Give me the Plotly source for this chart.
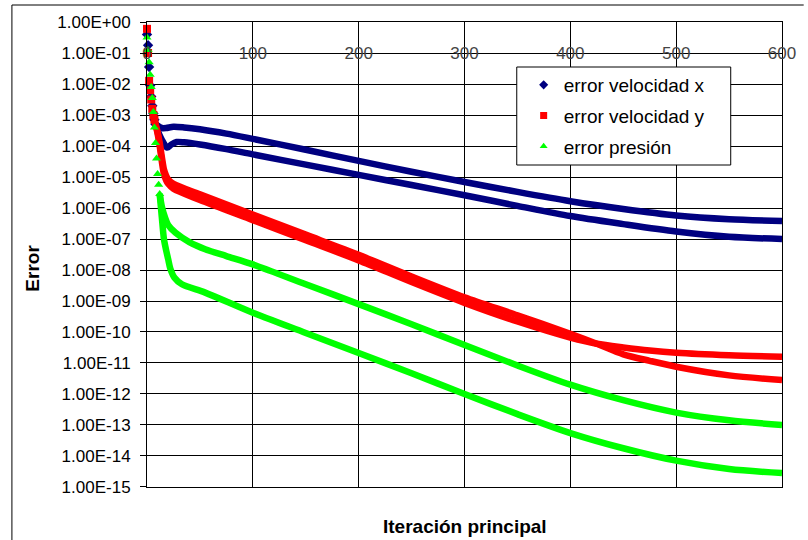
import plotly.graph_objects as go

# ---------------- data (values as log10 of the error) ----------------
x_ticks = [0, 100, 200, 300, 400, 500, 600]
x_tick_text = ["0", "100", "200", "300", "400", "500", "600"]
y_tick_exp = list(range(0, -16, -1))
y_tick_text = ["1.00E+00"] + ["1.00E-%02d" % (-e) for e in y_tick_exp[1:]]

# error velocidad x
vx_early_x = [0, 1, 2, 3, 4, 5, 6, 7, 8]
vx_early_log = [-0.4, -0.75, -1.45, -2.05, -2.4, -2.7, -2.95, -3.15, -3.3]
vx_a_x = [8, 10, 14, 18, 25, 35, 50, 75, 100, 150, 200, 250, 300, 350, 400, 450, 500, 550, 600]
vx_a_log = [-3.3, -3.35, -3.42, -3.42, -3.38, -3.4, -3.46, -3.6, -3.77, -4.12, -4.48, -4.83,
            -5.16, -5.48, -5.78, -6.03, -6.24, -6.36, -6.42]
vx_b_x = [8, 10, 14, 19, 23, 28, 35, 50, 75, 100, 150, 200, 250, 300, 350, 400, 450, 500, 550, 600]
vx_b_log = [-3.3, -3.5, -3.8, -4.05, -3.95, -3.87, -3.88, -3.95, -4.1, -4.27, -4.6, -4.93,
            -5.26, -5.59, -5.93, -6.26, -6.52, -6.76, -6.93, -7.0]

# error velocidad y
vy_early_x = [0, 1, 2, 3, 4, 5, 6, 7]
vy_early_log = [-0.22, -1.0, -1.9, -2.2, -2.5, -2.8, -3.0, -3.15]
vy_a_x = [7, 10, 12, 14, 16, 18, 20, 25, 50, 100, 150, 200, 250, 300, 350, 400, 425, 450,
          475, 500, 550, 600]
vy_a_log = [-3.15, -3.6, -4.0, -4.5, -4.9, -5.1, -5.22, -5.38, -5.74, -6.39, -7.04, -7.69,
            -8.39, -9.06, -9.66, -10.18, -10.38, -10.5, -10.6, -10.67, -10.75, -10.8]
vy_b_x = [7, 10, 12, 14, 16, 18, 20, 25, 50, 100, 150, 200, 250, 300, 350, 400, 425, 450,
          475, 500, 550, 600]
vy_b_log = [-3.15, -3.55, -3.9, -4.35, -4.75, -4.95, -5.08, -5.22, -5.56, -6.21, -6.86, -7.51,
            -8.21, -8.88, -9.46, -10.06, -10.38, -10.72, -10.93, -11.12, -11.4, -11.55]

# error presión
p_early_x = [0, 1, 2, 3, 4, 5, 6, 7, 8, 9, 10, 11, 12]
p_early_log = [-0.5, -0.9, -1.3, -1.7, -2.1, -2.45, -2.9, -3.4, -3.9, -4.4, -4.9, -5.25, -5.55]
p_a_x = [12, 14, 17, 20, 27, 40, 55, 75, 100, 150, 200, 250, 300, 350, 400, 450, 500, 550, 600]
p_a_log = [-5.55, -5.95, -6.3, -6.55, -6.8, -7.1, -7.33, -7.55, -7.82, -8.46, -9.1, -9.75,
           -10.42, -11.08, -11.7, -12.2, -12.6, -12.85, -13.0]
p_b_x = [12, 14, 16, 18, 20, 22, 26, 33, 55, 100, 150, 200, 250, 300, 350, 400, 450, 500, 550, 600]
p_b_log = [-5.55, -6.3, -7.0, -7.35, -7.65, -7.95, -8.25, -8.46, -8.73, -9.38, -10.03, -10.68,
           -11.33, -12.0, -12.65, -13.26, -13.75, -14.15, -14.42, -14.55]

series_names = ["error velocidad x", "error velocidad y", "error presión"]
colors = ["#000080", "#FF0000", "#00FF00"]
symbols = ["diamond", "square", "triangle-up"]


def vals(logs):
    return [10 ** e for e in logs]


FONT = "Liberation Sans, Arial, sans-serif"

# plot area geometry (pixels)
W, H = 808, 540
L, R, T, B = 147, 791, 22, 487
PW, PH = R - L, B - T


def px(xp):
    return (xp - L) / PW


def py(yp):
    return (B - yp) / PH


fig = go.Figure()

groups = [
    (vx_early_x, vx_early_log, [(vx_a_x, vx_a_log), (vx_b_x, vx_b_log)]),
    (vy_early_x, vy_early_log, [(vy_a_x, vy_a_log), (vy_b_x, vy_b_log)]),
    (p_early_x, p_early_log, [(p_a_x, p_a_log), (p_b_x, p_b_log)]),
]

for i, (ex, el, branches) in enumerate(groups):
    for bx, bl in branches:
        fig.add_trace(go.Scatter(
            x=bx, y=vals(bl), mode="lines",
            line=dict(color=colors[i], width=6.5, shape="spline", smoothing=0.8),
            showlegend=False, hoverinfo="skip", cliponaxis=False))
    fig.add_trace(go.Scatter(
        x=ex, y=vals(el), mode="markers",
        marker=dict(color=colors[i], symbol=symbols[i], size=8, line=dict(width=0)),
        showlegend=False, hoverinfo="skip", cliponaxis=False))

# legend entries
for i in range(3):
    fig.add_trace(go.Scatter(
        x=[None], y=[None], mode="markers", name=series_names[i],
        legendgroup=series_names[i],
        marker=dict(color=colors[i], symbol=symbols[i], size=7, line=dict(width=0))))

fig.update_layout(
    width=W, height=H,
    margin=dict(l=L, r=W - R, t=T, b=H - B),
    paper_bgcolor="white", plot_bgcolor="white",
    font=dict(family=FONT, size=17, color="black"),
    showlegend=True,
    legend=dict(x=px(529), y=py(66), xanchor="left", yanchor="top",
                bgcolor="rgba(0,0,0,0)", borderwidth=0,
                font=dict(family=FONT, size=19, color="black"),
                traceorder="grouped", tracegroupgap=3),
    xaxis=dict(range=[0, 600], side="top", tickvals=x_ticks, ticktext=x_tick_text,
               ticks="", ticklabelposition="inside", ticklabelstandoff=26,
               ticklabeloverflow="allow",
               showgrid=True, gridcolor="black", gridwidth=1,
               showline=True, linecolor="black", linewidth=1, mirror=True,
               zeroline=False, tickfont=dict(size=17)),
    yaxis=dict(type="log", range=[-15.0005, 0.0005],
               tickvals=[10 ** e for e in y_tick_exp], ticktext=y_tick_text,
               ticks="outside", ticklen=6, tickcolor="black", ticklabelstandoff=6,
               showgrid=True, gridcolor="black", gridwidth=1,
               showline=True, linecolor="black", linewidth=1, mirror=True,
               zeroline=False, tickfont=dict(size=17)),
    shapes=[
        # legend box
        dict(type="rect", xref="paper", yref="paper", x0=px(522), x1=px(739),
             y0=py(165), y1=py(67), line=dict(color="black", width=1),
             fillcolor="white", layer="above"),
        # outer chart frame (top and left edges visible)
        dict(type="line", xref="paper", yref="paper", x0=px(10), x1=px(W + 5),
             y0=py(5), y1=py(5), line=dict(color="black", width=1)),
        dict(type="line", xref="paper", yref="paper", x0=px(10), x1=px(10),
             y0=py(5), y1=py(H + 5), line=dict(color="black", width=1)),
    ],
    annotations=[
        dict(text="<b>Iteración principal</b>", xref="paper", yref="paper",
             x=0.5, y=py(526), xanchor="center", yanchor="middle", showarrow=False,
             font=dict(family=FONT, size=19, color="black")),
        dict(text="<b>Error</b>", xref="paper", yref="paper", textangle=-90,
             x=px(30), y=py(268), xanchor="center", yanchor="middle", showarrow=False,
             font=dict(family=FONT, size=19, color="black")),
    ],
)

fig.write_html("out.html")
